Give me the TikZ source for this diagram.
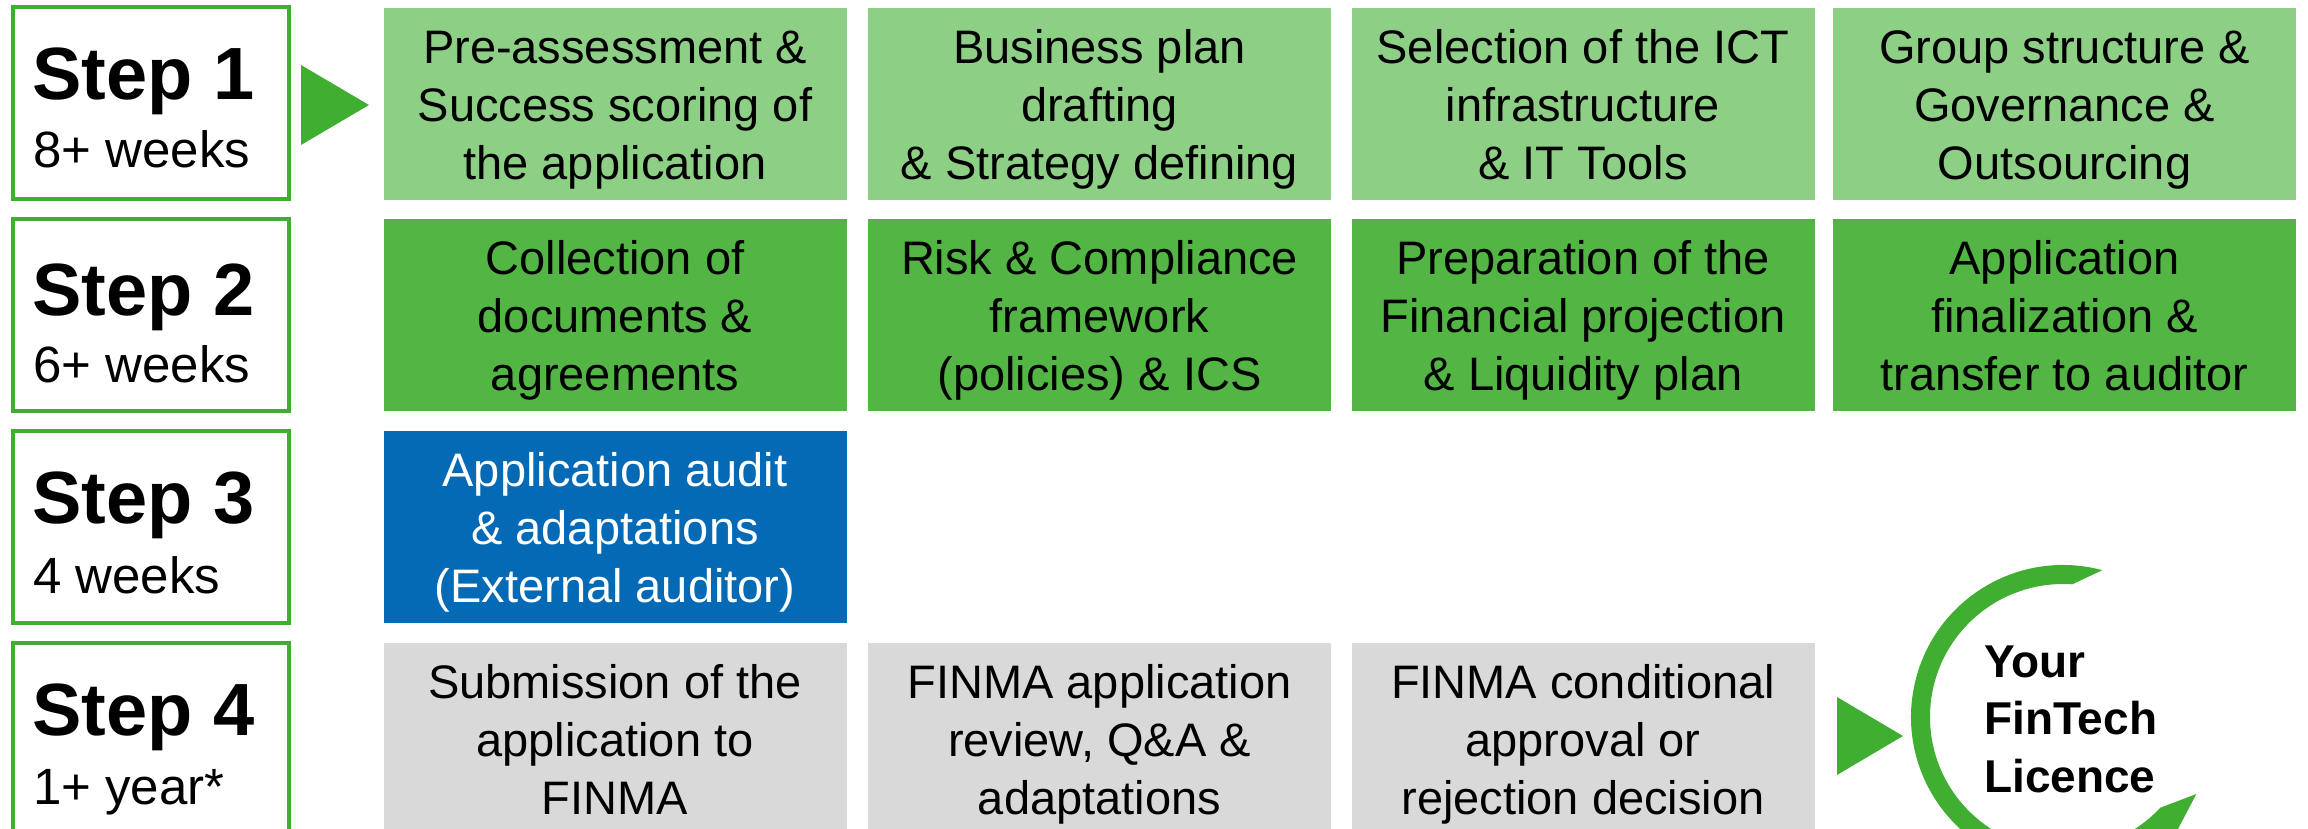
\documentclass[tikz,border=0pt]{standalone}
\usepackage{fontspec}
\setmainfont{Liberation Sans}
\definecolor{stepgreen}{RGB}{64,174,49}
\definecolor{lightgreen}{RGB}{141,208,133}
\definecolor{midgreen}{RGB}{82,181,68}
\definecolor{auditblue}{RGB}{5,106,181}
\definecolor{greybox}{RGB}{217,217,217}
\newcommand\three[3]{\rule{0pt}{1em}#1\\#2\\#3\rule[-0.25em]{0pt}{0pt}}
\begin{document}
\begin{tikzpicture}[x=1pt,y=-1pt,
  task/.style={minimum width=463pt,minimum height=192pt,inner sep=0pt,align=center,
    font=\fontsize{47pt}{58pt}\selectfont},
  pa/.style={task,fill=lightgreen},
  pb/.style={task,fill=midgreen},
  pc/.style={task,fill=auditblue,text=white},
  pd/.style={task,fill=greybox},
  stepbox/.style={draw=stepgreen,line width=4pt,fill=white,minimum width=276pt,
    minimum height=192pt,inner sep=0pt},
  steptitle/.style={anchor=base west,inner sep=0pt,font=\bfseries\fontsize{74pt}{74pt}\selectfont},
  stepsub/.style={anchor=base west,inner sep=0pt,font=\fontsize{51pt}{51pt}\selectfont},
  pointer/.style={fill=stepgreen}]
\useasboundingbox (0,0) rectangle (2308,829);
\clip (0,0) rectangle (2308,829);

% step boxes
\node[stepbox] (s1) at (151,103) {};
\node[steptitle] (s1a) at (32,100) {Step 1};
\node[stepsub] (s1b) at (33,168) {8+ weeks};
\node[stepbox] (s2) at (151,315) {};
\node[steptitle] (s2a) at (32,315) {Step 2};
\node[stepsub] (s2b) at (33,382) {6+ weeks};
\node[stepbox] (s3) at (151,527) {};
\node[steptitle] (s3a) at (32,523) {Step 3};
\node[stepsub] (s3b) at (33,593) {4 weeks};
\node[stepbox] (s4) at (151,739) {};
\node[steptitle] (s4a) at (32,735) {Step 4};
\node[stepsub] (s4b) at (33,804) {1+ year*};

% row 1
\node[pa] (a1) at (615,104) {\three{Pre-assessment \&}{Success scoring of}{the application}};
\node[pa] (a2) at (1099.5,104) {\three{Business plan}{drafting}{\& Strategy defining}};
\node[pa] (a3) at (1583,104) {\three{Selection of the ICT}{infrastructure}{\& IT Tools}};
\node[pa] (a4) at (2064.5,104) {\three{Group structure \&}{Governance \&}{Outsourcing}};
% row 2
\node[pb] (b1) at (615,315) {\three{Collection of}{documents \&}{agreements}};
\node[pb] (b2) at (1099.5,315) {\three{Risk \& Compliance}{framework}{(policies) \& ICS}};
\node[pb] (b3) at (1583,315) {\three{Preparation of the}{Financial projection}{\& Liquidity plan}};
\node[pb] (b4) at (2064.5,315) {\three{Application}{finalization \&}{transfer to auditor}};
% row 3
\node[pc] (c1) at (615,527) {\three{Application audit}{\& adaptations}{(External auditor)}};
% row 4
\node[pd] (d1) at (615,739) {\three{Submission of the}{application to}{FINMA}};
\node[pd] (d2) at (1099.5,739) {\three{FINMA application}{review, Q\&A \&}{adaptations}};
\node[pd] (d3) at (1583,739) {\three{FINMA conditional}{approval or}{rejection decision}};

% pointers
\fill[pointer] (301,65) -- (301,145) -- (369,105) -- cycle;
\fill[pointer] (1837,697) -- (1837,775) -- (1903,736) -- cycle;

% circular arrow
\coordinate (ctr) at (2063,717);
\fill[stepgreen] ([shift={(-75:152)}]ctr) arc[start angle=-75,end angle=-300,radius=152]
  -- ([shift={(60:182)}]ctr) -- ([shift={(30:154)}]ctr) -- ([shift={(43:133)}]ctr)
  arc[start angle=43,end angle=274,radius=133] -- cycle;
\node[anchor=west,inner sep=0pt,align=left,font=\bfseries\fontsize{46pt}{57.5pt}\selectfont]
  (lic) at (1984,719) {Your\\FinTech\\Licence};
\end{tikzpicture}
\end{document}
